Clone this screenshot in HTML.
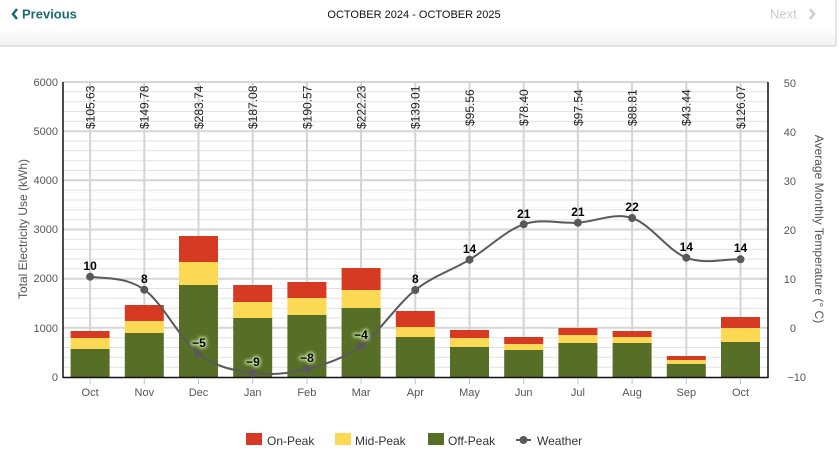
<!DOCTYPE html>
<html><head><style>
body{margin:0;background:#fff;width:839px;height:453px;overflow:hidden;font-family:"Liberation Sans",sans-serif}
</style></head><body>
<svg width="839" height="453" xmlns="http://www.w3.org/2000/svg" font-family="Liberation Sans, sans-serif">
<defs><linearGradient id="hg" x1="0" y1="0" x2="0" y2="1"><stop offset="0.6" stop-color="#fff"/><stop offset="1" stop-color="#f2f2f2"/></linearGradient>
<filter id="glow" x="-50%" y="-50%" width="200%" height="200%"><feGaussianBlur stdDeviation="1.5"/></filter></defs>
<rect x="0" y="0" width="836" height="46" fill="url(#hg)"/>
<line x1="0" y1="46" x2="836" y2="46" stroke="#ccc"/>
<line x1="836" y1="0" x2="836" y2="46" stroke="#ccc"/>
<polyline points="17,9 13,14 17,19" fill="none" stroke="#1d6a6a" stroke-width="2.5"/>
<text x="22" y="18.5" font-size="13" font-weight="bold" fill="#1d6a6a">Previous</text>
<text x="414" y="18" font-size="11" text-anchor="middle" fill="#111">OCTOBER 2024 - OCTOBER 2025</text>
<text x="770" y="18.5" font-size="13" fill="#ccc">Next</text>
<polyline points="810,9 814,14 810,19" fill="none" stroke="#ccc" stroke-width="2.5"/>
<g stroke="#e2e2e2" stroke-width="1">
<line x1="63" x2="768" y1="91.8" y2="91.8"/><line x1="63" x2="768" y1="101.7" y2="101.7"/><line x1="63" x2="768" y1="111.5" y2="111.5"/><line x1="63" x2="768" y1="121.3" y2="121.3"/>
<line x1="63" x2="768" y1="141" y2="141"/><line x1="63" x2="768" y1="150.8" y2="150.8"/><line x1="63" x2="768" y1="160.7" y2="160.7"/><line x1="63" x2="768" y1="170.5" y2="170.5"/>
<line x1="63" x2="768" y1="190.2" y2="190.2"/><line x1="63" x2="768" y1="200" y2="200"/><line x1="63" x2="768" y1="209.8" y2="209.8"/><line x1="63" x2="768" y1="219.7" y2="219.7"/>
<line x1="63" x2="768" y1="239.3" y2="239.3"/><line x1="63" x2="768" y1="249.2" y2="249.2"/><line x1="63" x2="768" y1="259" y2="259"/><line x1="63" x2="768" y1="268.8" y2="268.8"/>
<line x1="63" x2="768" y1="288.5" y2="288.5"/><line x1="63" x2="768" y1="298.3" y2="298.3"/><line x1="63" x2="768" y1="308.2" y2="308.2"/><line x1="63" x2="768" y1="318" y2="318"/>
<line x1="63" x2="768" y1="337.7" y2="337.7"/><line x1="63" x2="768" y1="347.5" y2="347.5"/><line x1="63" x2="768" y1="357.3" y2="357.3"/><line x1="63" x2="768" y1="367.2" y2="367.2"/>
</g>
<g stroke="#d6d6d6" stroke-width="2">
<line x1="63" x2="768" y1="82" y2="82"/><line x1="63" x2="768" y1="131.2" y2="131.2"/><line x1="63" x2="768" y1="180.3" y2="180.3"/><line x1="63" x2="768" y1="229.5" y2="229.5"/><line x1="63" x2="768" y1="278.7" y2="278.7"/><line x1="63" x2="768" y1="327.8" y2="327.8"/>
</g>
<g stroke="#d4d4d4" stroke-width="2">
<line x1="90.1" x2="90.1" y1="82" y2="331"/><line x1="144.3" x2="144.3" y1="82" y2="305"/><line x1="198.5" x2="198.5" y1="82" y2="236"/><line x1="252.7" x2="252.7" y1="82" y2="285"/><line x1="306.9" x2="306.9" y1="82" y2="282"/><line x1="361.1" x2="361.1" y1="82" y2="268"/><line x1="415.3" x2="415.3" y1="82" y2="311"/><line x1="469.5" x2="469.5" y1="82" y2="330"/><line x1="523.7" x2="523.7" y1="82" y2="337"/><line x1="577.9" x2="577.9" y1="82" y2="328"/><line x1="632.1" x2="632.1" y1="82" y2="331"/><line x1="686.3" x2="686.3" y1="82" y2="356"/><line x1="740.5" x2="740.5" y1="82" y2="317"/>
</g>
<g>
<rect x="70.6" y="331" width="39" height="7" fill="#d63a22"/><rect x="70.6" y="338" width="39" height="11" fill="#fcd955"/><rect x="70.6" y="349" width="39" height="28" fill="#566e26"/>
<rect x="124.8" y="305" width="39" height="16" fill="#d63a22"/><rect x="124.8" y="321" width="39" height="12" fill="#fcd955"/><rect x="124.8" y="333" width="39" height="44" fill="#566e26"/>
<rect x="179" y="236" width="39" height="26" fill="#d63a22"/><rect x="179" y="262" width="39" height="23" fill="#fcd955"/><rect x="179" y="285" width="39" height="92" fill="#566e26"/>
<rect x="233.2" y="285" width="39" height="17" fill="#d63a22"/><rect x="233.2" y="302" width="39" height="16" fill="#fcd955"/><rect x="233.2" y="318" width="39" height="59" fill="#566e26"/>
<rect x="287.4" y="282" width="39" height="16" fill="#d63a22"/><rect x="287.4" y="298" width="39" height="17" fill="#fcd955"/><rect x="287.4" y="315" width="39" height="62" fill="#566e26"/>
<rect x="341.6" y="268" width="39" height="22" fill="#d63a22"/><rect x="341.6" y="290" width="39" height="18" fill="#fcd955"/><rect x="341.6" y="308" width="39" height="69" fill="#566e26"/>
<rect x="395.8" y="311" width="39" height="16" fill="#d63a22"/><rect x="395.8" y="327" width="39" height="10" fill="#fcd955"/><rect x="395.8" y="337" width="39" height="40" fill="#566e26"/>
<rect x="450" y="330" width="39" height="8" fill="#d63a22"/><rect x="450" y="338" width="39" height="9" fill="#fcd955"/><rect x="450" y="347" width="39" height="30" fill="#566e26"/>
<rect x="504.2" y="337" width="39" height="7" fill="#d63a22"/><rect x="504.2" y="344" width="39" height="6" fill="#fcd955"/><rect x="504.2" y="350" width="39" height="27" fill="#566e26"/>
<rect x="558.4" y="328" width="39" height="7" fill="#d63a22"/><rect x="558.4" y="335" width="39" height="8" fill="#fcd955"/><rect x="558.4" y="343" width="39" height="34" fill="#566e26"/>
<rect x="612.6" y="331" width="39" height="6" fill="#d63a22"/><rect x="612.6" y="337" width="39" height="6" fill="#fcd955"/><rect x="612.6" y="343" width="39" height="34" fill="#566e26"/>
<rect x="666.8" y="356" width="39" height="4" fill="#d63a22"/><rect x="666.8" y="360" width="39" height="4" fill="#fcd955"/><rect x="666.8" y="364" width="39" height="13" fill="#566e26"/>
<rect x="721" y="317" width="39" height="11" fill="#d63a22"/><rect x="721" y="328" width="39" height="14" fill="#fcd955"/><rect x="721" y="342" width="39" height="35" fill="#566e26"/>
</g>
<line x1="63" y1="82" x2="63" y2="378" stroke="#111" stroke-width="1.5"/>
<line x1="768" y1="82" x2="768" y2="378" stroke="#111" stroke-width="1.5"/>
<line x1="63" y1="377.5" x2="768" y2="377.5" stroke="#111" stroke-width="1.5"/>
<g stroke="#b0c4de" stroke-width="1">
<line x1="90.1" x2="90.1" y1="378" y2="384"/><line x1="144.3" x2="144.3" y1="378" y2="384"/><line x1="198.5" x2="198.5" y1="378" y2="384"/><line x1="252.7" x2="252.7" y1="378" y2="384"/><line x1="306.9" x2="306.9" y1="378" y2="384"/><line x1="361.1" x2="361.1" y1="378" y2="384"/><line x1="415.3" x2="415.3" y1="378" y2="384"/><line x1="469.5" x2="469.5" y1="378" y2="384"/><line x1="523.7" x2="523.7" y1="378" y2="384"/><line x1="577.9" x2="577.9" y1="378" y2="384"/><line x1="632.1" x2="632.1" y1="378" y2="384"/><line x1="686.3" x2="686.3" y1="378" y2="384"/><line x1="740.5" x2="740.5" y1="378" y2="384"/>
</g>
<path d="M90.1,276.7 C108.2,278.9 126.2,276.9 144.3,289.7 C162.4,302.5 180.4,339.8 198.5,353.7 C216.6,367.6 234.6,370.5 252.7,373 C270.8,375.5 288.8,373.6 306.9,369 C325,364.4 343,358.9 361.1,345.7 C379.2,332.5 397.2,304.3 415.3,290 C433.4,275.7 451.4,270.7 469.5,259.7 C487.6,248.7 505.6,230.5 523.7,224.3 C541.8,218.1 559.8,223.8 577.9,222.7 C596,221.6 614,212.2 632.1,218 C650.2,223.8 668.2,250.8 686.3,257.7 C704.4,264.6 722.4,259 740.5,259.3" fill="none" stroke="#595959" stroke-width="2"/>
<g fill="#595959">
<circle cx="90.1" cy="276.7" r="4"/><circle cx="144.3" cy="289.7" r="4"/><circle cx="198.5" cy="353.7" r="4"/><circle cx="252.7" cy="373" r="4"/><circle cx="306.9" cy="369" r="4"/><circle cx="361.1" cy="345.7" r="4"/><circle cx="415.3" cy="290" r="4"/><circle cx="469.5" cy="259.7" r="4"/><circle cx="523.7" cy="224.3" r="4"/><circle cx="577.9" cy="222.7" r="4"/><circle cx="632.1" cy="218" r="4"/><circle cx="686.3" cy="257.7" r="4"/><circle cx="740.5" cy="259.3" r="4"/>
</g>
<g font-size="12" font-weight="bold" text-anchor="middle" fill="#000">
<text x="90.1" y="270">10</text><text x="144.3" y="283">8</text><text x="415.3" y="283">8</text><text x="469.5" y="253">14</text><text x="523.7" y="218">21</text><text x="577.9" y="216">21</text><text x="632.1" y="211">22</text><text x="686.3" y="251">14</text><text x="740.5" y="252">14</text>
<g stroke="#d8f0b0" stroke-width="3" filter="url(#glow)" opacity="0.9"><text x="199" y="347">−5</text><text x="253" y="366">−9</text><text x="307" y="362">−8</text><text x="361" y="339">−4</text></g>
<text x="199" y="347">−5</text><text x="253" y="366">−9</text><text x="307" y="362">−8</text><text x="361" y="339">−4</text>
</g>
<g font-size="12" fill="#222">
<text transform="translate(94.5,129) rotate(-90)">$105.63</text>
<text transform="translate(148.7,129) rotate(-90)">$149.78</text>
<text transform="translate(202.9,129) rotate(-90)">$283.74</text>
<text transform="translate(257.1,129) rotate(-90)">$187.08</text>
<text transform="translate(311.3,129) rotate(-90)">$190.57</text>
<text transform="translate(365.5,129) rotate(-90)">$222.23</text>
<text transform="translate(419.7,129) rotate(-90)">$139.01</text>
<text transform="translate(473.9,126) rotate(-90)">$95.56</text>
<text transform="translate(528.1,126) rotate(-90)">$78.40</text>
<text transform="translate(582.3,126) rotate(-90)">$97.54</text>
<text transform="translate(636.5,126) rotate(-90)">$88.81</text>
<text transform="translate(690.7,126) rotate(-90)">$43.44</text>
<text transform="translate(744.9,129) rotate(-90)">$126.07</text>
</g>
<g font-size="11" fill="#555" text-anchor="end">
<text x="58" y="86">6000</text><text x="58" y="135">5000</text><text x="58" y="184">4000</text><text x="58" y="233">3000</text><text x="58" y="282">2000</text><text x="58" y="332">1000</text><text x="58" y="381">0</text>
</g>
<g font-size="11" fill="#555" text-anchor="end">
<text x="796" y="87">50</text><text x="796" y="136">40</text><text x="796" y="185">30</text><text x="796" y="234">20</text><text x="796" y="283">10</text><text x="796" y="332">0</text><text x="806" y="381">−10</text>
</g>
<g font-size="11" fill="#555" text-anchor="middle">
<text x="90.1" y="396">Oct</text><text x="144.3" y="396">Nov</text><text x="198.5" y="396">Dec</text><text x="252.7" y="396">Jan</text><text x="306.9" y="396">Feb</text><text x="361.1" y="396">Mar</text><text x="415.3" y="396">Apr</text><text x="469.5" y="396">May</text><text x="523.7" y="396">Jun</text><text x="577.9" y="396">Jul</text><text x="632.1" y="396">Aug</text><text x="686.3" y="396">Sep</text><text x="740.5" y="396">Oct</text>
</g>
<text transform="translate(27,229) rotate(-90)" font-size="12" fill="#555" text-anchor="middle">Total Electricity Use (kWh)</text>
<text transform="translate(815,229) rotate(90)" font-size="12" fill="#555" text-anchor="middle">Average Monthly Temperature (° C)</text>
<g font-size="12" fill="#333">
<rect x="246" y="433" width="16" height="12" fill="#d63a22"/><text x="267" y="445">On-Peak</text>
<rect x="335" y="433" width="16" height="12" fill="#fcd955"/><text x="355" y="445">Mid-Peak</text>
<rect x="428" y="433" width="16" height="12" fill="#566e26"/><text x="448" y="445">Off-Peak</text>
<line x1="516" y1="440" x2="531" y2="440" stroke="#595959" stroke-width="2"/><circle cx="523.5" cy="440" r="4" fill="#595959"/><text x="537" y="445">Weather</text>
</g>
</svg>
</body></html>
